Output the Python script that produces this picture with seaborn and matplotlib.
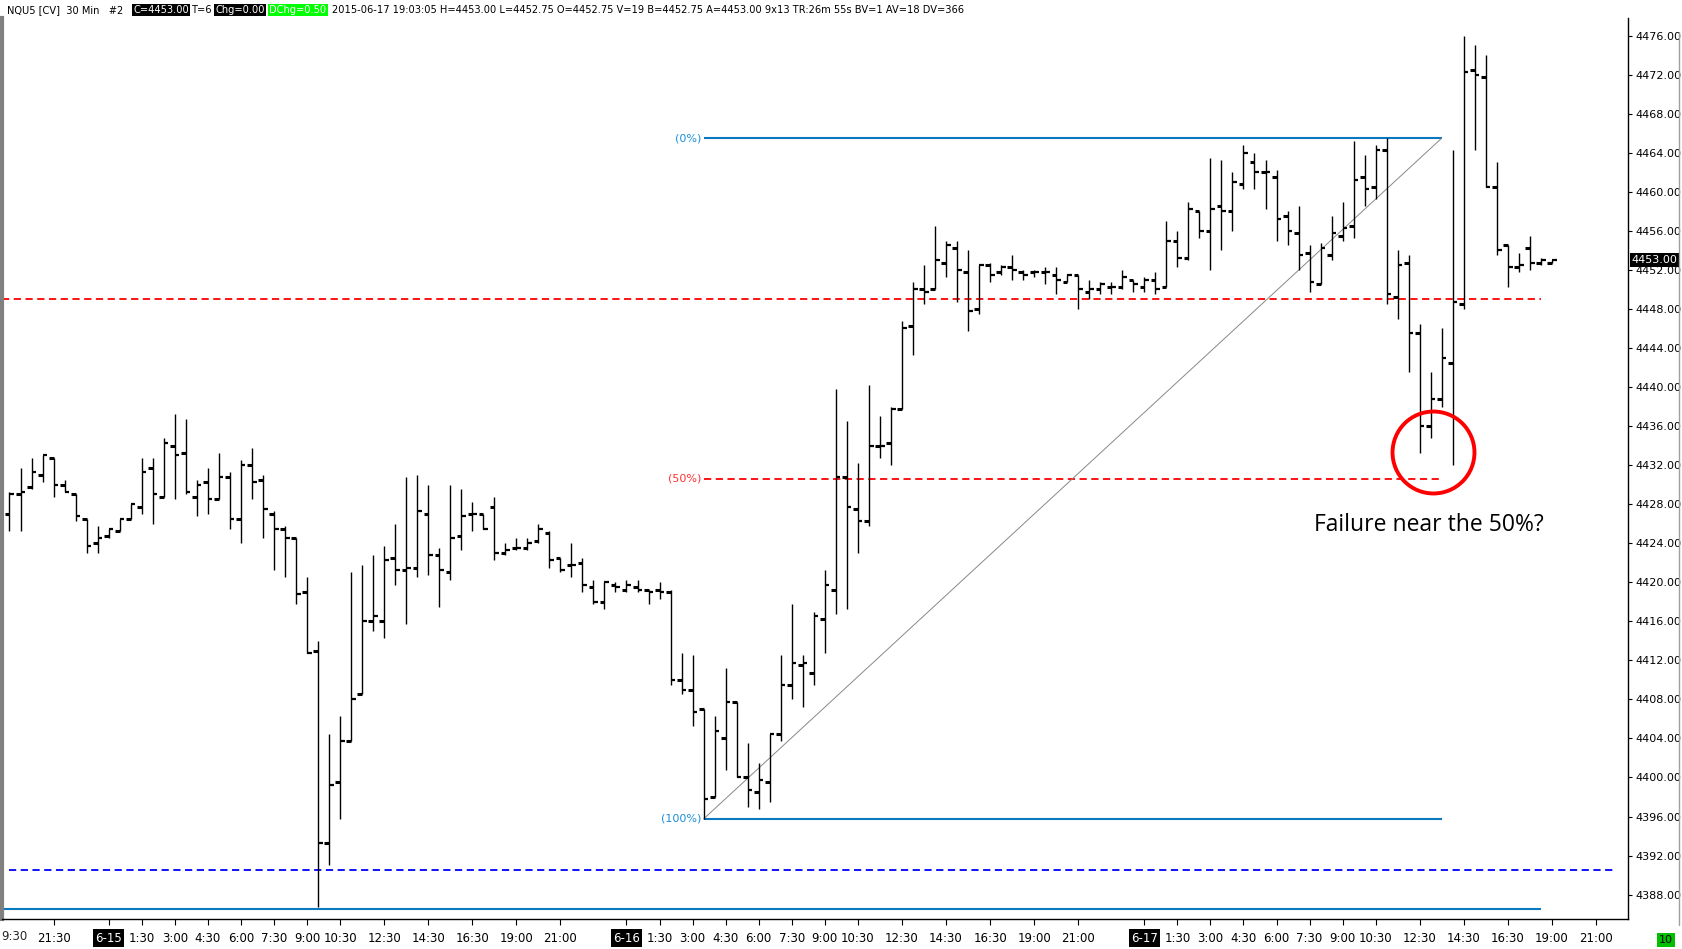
import matplotlib
matplotlib.use("Agg")
import matplotlib.pyplot as plt
import seaborn as sns
from matplotlib import font_manager
from matplotlib.lines import Line2D
from matplotlib.transforms import blended_transform_factory

sns.set_theme(style="white")
installed = {f.name for f in font_manager.fontManager.ttflist}
narrow = "Liberation Sans Narrow" if "Liberation Sans Narrow" in installed else "DejaVu Sans"
plt.rcParams["font.family"] = ["DejaVu Sans"]

# ---------------- data (30 min bars, index 0 = 6-15 0:00) ----------------
bar_idx = list(range(-9, 132))

opens = [4427.0, 4429.0, 4429.75, 4431.0, 4432.75, 4430.0, 4429.0, 4426.5, 4424.0,
         4424.75, 4425.25, 4426.5, 4427.75, 4431.75, 4428.75, 4434.0, 4433.25, 4428.75, 4430.25,
         4428.5, 4430.75, 4426.5, 4432.0, 4430.5, 4427.0, 4425.5, 4424.5, 4419.0, 4413.0,
         4393.25, 4399.5, 4403.75, 4408.5, 4416.0, 4416.0, 4422.5, 4421.25, 4421.5, 4427.0,
         4422.75, 4421.0, 4424.75, 4427.0, 4427.0, 4427.75, 4423.0, 4423.5, 4423.5, 4424.25,
         4425.0, 4422.5, 4421.75, 4422.0, 4419.5, 4418.0, 4419.75, 4419.25, 4419.5, 4419.25,
         4419.25, 4419.0, 4410.0, 4409.0, 4407.0, 4398.0, 4404.0, 4407.75, 4400.0, 4398.5,
         4399.5, 4404.5, 4409.5, 4411.5, 4410.75, 4416.25, 4419.25, 4430.75, 4427.5, 4426.25,
         4434.0, 4434.25, 4437.75, 4446.25, 4450.0, 4450.0, 4452.75, 4454.25, 4451.75, 4448.0,
         4452.5, 4451.75, 4452.25, 4451.75, 4451.75, 4451.75, 4451.5, 4450.75, 4451.5, 4449.75,
         4450.0, 4450.25, 4450.25, 4451.0, 4450.25, 4451.0, 4450.25, 4455.0, 4453.25, 4458.0,
         4456.0, 4458.5, 4458.0, 4460.75, 4463.0, 4462.0, 4461.5, 4457.5, 4455.75, 4453.75,
         4450.5, 4453.5, 4455.5, 4456.5, 4461.5, 4460.5, 4464.25, 4449.25, 4452.75, 4445.5,
         4436.0, 4438.75, 4442.5, 4448.5, 4472.5, 4471.75, 4460.5, 4454.5, 4452.25, 4454.25,
         4452.75, 4452.75]
highs = [4429.25, 4431.75, 4432.75, 4433.0, 4432.75, 4430.5, 4429.0, 4426.5, 4425.75,
         4425.5, 4426.5, 4428.0, 4432.75, 4432.75, 4434.75, 4437.25, 4436.75, 4430.5, 4431.75,
         4433.25, 4431.25, 4432.5, 4433.75, 4431.0, 4427.25, 4425.75, 4424.5, 4420.5, 4414.0,
         4404.5, 4406.25, 4421.0, 4421.75, 4422.75, 4423.75, 4426.0, 4430.75, 4431.0, 4430.0,
         4423.5, 4430.0, 4429.5, 4428.25, 4427.0, 4428.75, 4424.0, 4424.5, 4424.5, 4426.0,
         4425.25, 4422.5, 4424.0, 4422.5, 4420.25, 4420.0, 4420.0, 4420.25, 4420.25, 4419.25,
         4420.0, 4419.25, 4412.75, 4412.5, 4407.0, 4406.25, 4411.25, 4407.75, 4403.5, 4401.5,
         4404.5, 4412.5, 4417.75, 4412.5, 4417.0, 4421.25, 4439.75, 4436.5, 4432.25, 4440.25,
         4437.0, 4438.0, 4446.75, 4450.75, 4452.5, 4456.5, 4455.0, 4455.0, 4454.0, 4452.5,
         4452.75, 4452.5, 4453.5, 4452.0, 4452.0, 4452.25, 4452.25, 4451.5, 4451.5, 4451.0,
         4450.75, 4450.75, 4452.0, 4451.0, 4451.25, 4451.75, 4457.0, 4456.0, 4459.0, 4458.0,
         4463.5, 4463.25, 4462.0, 4464.75, 4464.0, 4463.25, 4462.25, 4458.0, 4458.5, 4454.5,
         4454.75, 4457.5, 4459.0, 4465.25, 4463.75, 4464.75, 4465.5, 4454.0, 4453.5, 4446.5,
         4441.5, 4446.0, 4464.25, 4476.0, 4475.0, 4474.0, 4463.0, 4454.5, 4453.75, 4455.5,
         4453.25, 4453.0]
lows = [4425.25, 4425.25, 4429.5, 4430.25, 4428.75, 4429.25, 4426.25, 4423.0, 4423.0,
        4424.5, 4425.25, 4426.5, 4427.0, 4426.0, 4428.75, 4428.5, 4429.0, 4426.75, 4427.0,
        4428.5, 4425.5, 4424.0, 4428.5, 4424.5, 4421.25, 4420.5, 4417.75, 4412.75, 4386.75,
        4391.0, 4395.75, 4403.75, 4408.5, 4415.0, 4414.25, 4419.75, 4415.75, 4420.5, 4420.75,
        4417.5, 4420.25, 4423.25, 4425.25, 4425.5, 4422.25, 4422.75, 4423.25, 4423.25, 4424.0,
        4421.5, 4421.0, 4420.5, 4419.0, 4417.75, 4417.25, 4419.0, 4419.0, 4419.0, 4417.75,
        4418.25, 4409.5, 4408.5, 4405.25, 4395.75, 4398.0, 4400.75, 4400.0, 4397.0, 4396.75,
        4397.5, 4403.75, 4408.0, 4407.25, 4409.5, 4412.75, 4416.75, 4417.25, 4423.0, 4425.75,
        4432.75, 4432.0, 4437.75, 4443.25, 4448.5, 4450.0, 4451.25, 4448.75, 4445.75, 4447.5,
        4450.75, 4451.5, 4451.0, 4451.0, 4451.25, 4450.5, 4449.5, 4450.75, 4448.0, 4449.0,
        4449.5, 4449.5, 4450.0, 4449.75, 4449.75, 4449.5, 4450.25, 4452.25, 4453.0, 4455.25,
        4452.0, 4454.0, 4456.0, 4460.25, 4460.25, 4458.25, 4455.0, 4454.5, 4452.0, 4449.75,
        4450.5, 4453.0, 4455.0, 4455.25, 4458.5, 4459.25, 4448.5, 4447.0, 4441.5, 4433.25,
        4434.75, 4438.0, 4432.0, 4448.0, 4464.25, 4460.5, 4453.5, 4450.25, 4451.75, 4452.0,
        4452.5, 4452.75]
closes = [4429.0, 4429.25, 4431.25, 4433.0, 4430.0, 4429.25, 4426.75, 4423.75, 4424.5,
          4425.5, 4426.5, 4428.0, 4431.25, 4429.0, 4434.25, 4433.0, 4429.25, 4430.0, 4428.5,
          4430.75, 4426.5, 4432.0, 4430.25, 4427.5, 4425.5, 4424.5, 4418.75, 4412.75, 4393.25,
          4399.25, 4403.75, 4408.0, 4416.0, 4416.5, 4422.25, 4421.25, 4421.5, 4427.25, 4422.75,
          4421.25, 4424.5, 4426.75, 4427.0, 4425.5, 4423.0, 4423.25, 4423.5, 4424.0, 4425.5,
          4422.25, 4421.25, 4421.75, 4419.75, 4418.0, 4420.0, 4419.5, 4419.75, 4419.25, 4419.0,
          4419.0, 4410.0, 4409.0, 4406.75, 4397.75, 4404.75, 4407.75, 4400.0, 4398.75, 4399.75,
          4404.5, 4409.5, 4411.75, 4411.75, 4416.5, 4419.75, 4430.75, 4427.75, 4426.25, 4434.0,
          4434.0, 4437.75, 4446.0, 4450.0, 4449.75, 4453.0, 4454.5, 4452.0, 4447.75, 4452.5,
          4451.5, 4452.25, 4452.0, 4451.5, 4451.75, 4451.75, 4451.0, 4451.5, 4450.0, 4450.0,
          4450.5, 4450.25, 4451.25, 4450.5, 4451.0, 4450.0, 4455.0, 4453.25, 4458.25, 4456.0,
          4458.25, 4458.0, 4461.0, 4464.0, 4462.0, 4462.0, 4457.25, 4456.0, 4453.5, 4450.75,
          4454.25, 4455.75, 4456.25, 4461.25, 4460.25, 4464.25, 4449.5, 4452.5, 4445.5, 4436.0,
          4438.75, 4443.0, 4448.75, 4472.25, 4472.0, 4460.5, 4454.0, 4452.25, 4452.5, 4452.75,
          4453.0, 4453.0]

# fib retracement drawn on the chart
fib_x = [54, 121]
fib_low, fib_high = 4395.75, 4465.5
fib_mid = 4430.625
resist_level = 4449.0      # red dashed
support_dash = 4390.5      # blue dashed
support_solid = 4386.5     # blue solid

tick_pos = [-5, 0, 3, 6, 9, 12, 15, 18, 21, 25, 29, 33, 37, 41,
            47, 50, 53, 56, 59, 62, 65, 68, 72, 76, 80, 84, 88,
            94, 97, 100, 103, 106, 109, 112, 115, 119, 123, 127, 131, 135]
tick_txt = ["21:30", "6-15", "1:30", "3:00", "4:30", "6:00", "7:30", "9:00", "10:30", "12:30",
            "14:30", "16:30", "19:00", "21:00",
            "6-16", "1:30", "3:00", "4:30", "6:00", "7:30", "9:00", "10:30", "12:30", "14:30",
            "16:30", "19:00", "21:00",
            "6-17", "1:30", "3:00", "4:30", "6:00", "7:30", "9:00", "10:30", "12:30", "14:30",
            "16:30", "19:00", "21:00"]
price_ticks = list(range(4388, 4477, 4))
last_price = 4453.0

# ---------------- figure ----------------
W, H = 1682, 949
fig = plt.figure(figsize=(W / 100, H / 100), dpi=100)
fig.patch.set_facecolor("white")
ax = fig.add_axes([2 / W, 30 / H, 1626 / W, 901 / H])
ax.set_facecolor("white")

blue = "#0a78be"

# horizontal reference lines
ax.hlines(resist_level, -9.7, 130, color="#ff0000", lw=1.3, linestyles=(0, (4, 2.5)))
ax.hlines(support_dash, -9, 136.5, color="#0000ff", lw=1.3, linestyles=(0, (4, 2.5)))
ax.hlines(support_solid, -9.7, 130, color=blue, lw=1.5)

# fib
ax.hlines([fib_high, fib_low], fib_x[0], fib_x[1], color=blue, lw=1.5)
ax.hlines(fib_mid, fib_x[0], fib_x[1], color="#ff0000", lw=1.3, linestyles=(0, (4, 2.5)))
sns.lineplot(x=fib_x, y=[fib_low, fib_high], ax=ax, color="#888888", lw=0.7)
ax.text(53.8, fib_high, "(0%)", color="#1a8fd8", fontsize=8, ha="right", va="center")
ax.text(53.8, fib_mid, "(50%)", color="#ff3030", fontsize=8, ha="right", va="center")
ax.text(53.8, fib_low, "(100%)", color="#1a8fd8", fontsize=8, ha="right", va="center")

# OHLC bars
ax.vlines(bar_idx, lows, highs, color="black", lw=1.0)
ax.hlines(opens, [i - 0.42 for i in bar_idx], bar_idx, color="black", lw=2.2)
ax.hlines(closes, bar_idx, [i + 0.42 for i in bar_idx], color="black", lw=1.6)

# annotation
ax.plot([120.2], [4433.3], marker="o", ms=59, mfc="none", mec="#ff0000", mew=2.8)
ax.text(109.4, 4425.9, "Failure near the 50%?", fontsize=16.5, family="Open Sans",
        color="black", ha="left", va="center")

ax.set_xlim(-9.68, 137.9)
ax.set_ylim(4385.5, 4477.8)

# axes styling
ax.spines["top"].set_visible(False)
ax.spines["left"].set_color("#808080")
ax.spines["left"].set_linewidth(3)
ax.spines["right"].set_color("black")
ax.spines["right"].set_linewidth(1)
ax.spines["bottom"].set_color("black")
ax.spines["bottom"].set_linewidth(1)

ax.yaxis.tick_right()
ax.set_yticks(price_ticks)
ax.set_yticklabels([f"{v:.2f}" for v in price_ticks], fontsize=8)
ax.tick_params(axis="y", right=True, length=3, width=0.8, pad=2, colors="black")

ax.set_xticks(tick_pos)
ax.set_xticklabels(tick_txt, fontsize=8.5, family=narrow)
ax.tick_params(axis="x", bottom=True, length=4, width=0.8, pad=5, colors="black")
for lab in ax.get_xticklabels():
    if "-" in lab.get_text():
        lab.set_color("white")
        lab.set_bbox(dict(facecolor="black", edgecolor="none", pad=1.5))
ax.text(-8.6, -0.0125, "9:30", transform=blended_transform_factory(ax.transData, ax.transAxes),
        fontsize=8.5, family=narrow, ha="center", va="top")

# last price marker on the scale
ax.text(1.002, last_price, f"{last_price:.2f}",
        transform=blended_transform_factory(ax.transAxes, ax.transData),
        fontsize=8, color="white", ha="left", va="center",
        bbox=dict(facecolor="black", edgecolor="none", pad=1.2))

# header line
hy = 1 - 10 / H
hdr = dict(fontsize=7.1, family=narrow, va="center", ha="left")
fig.text(7 / W, hy, "NQU5 [CV]  30 Min   #2", color="black", **hdr)
fig.text(133 / W, hy, "C=4453.00", color="white", bbox=dict(facecolor="black", edgecolor="none", pad=1), **hdr)
fig.text(191 / W, hy, "T=6", color="black", **hdr)
fig.text(215 / W, hy, "Chg=0.00", color="white", bbox=dict(facecolor="black", edgecolor="none", pad=1), **hdr)
fig.text(269 / W, hy, "DChg=0.50", color="white", bbox=dict(facecolor="#00ff00", edgecolor="none", pad=1), **hdr)
fig.text(332 / W, hy, "2015-06-17 19:03:05 H=4453.00 L=4452.75 O=4452.75 V=19 B=4452.75 "
         "A=4453.00 9x13 TR:26m 55s BV=1 AV=18 DV=366", color="black", **hdr)

# bottom-right box and window border
fig.text(1659 / W, 1 - 940 / H, "10", fontsize=8, color="black", ha="left", va="center",
         bbox=dict(facecolor="#00c000", edgecolor="none", pad=1.2))
fig.add_artist(Line2D([1679 / W, 1679 / W], [1 - 32 / H, 1 - 925 / H], color="#a0a0a0", lw=1))

fig.savefig("out.png", dpi=100, facecolor="white")
